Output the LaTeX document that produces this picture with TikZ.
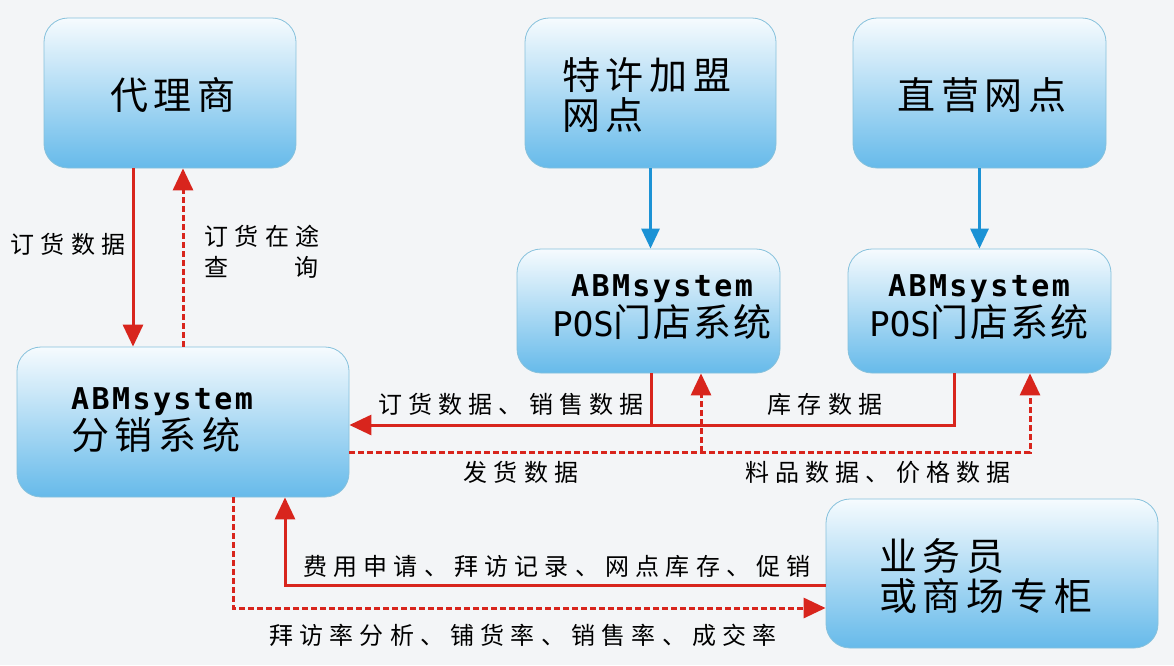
\documentclass[tikz,border=0pt]{standalone}
\usepackage{fontspec}
\usetikzlibrary{arrows.meta}
\newfontfamily\cjkbig[LetterSpace=15]{Noto Sans CJK SC}
\newfontfamily\cjkpos[LetterSpace=5]{Noto Sans CJK SC}
\newfontfamily\cjklab[LetterSpace=26]{Noto Sans CJK SC}
\newfontfamily\abmfont[LetterSpace=8]{DejaVu Sans Mono}
\newfontfamily\posfont{DejaVu Sans Mono}
\definecolor{bg}{HTML}{F3F5F7}
\definecolor{boxtop}{HTML}{F6FBFE}
\definecolor{boxbot}{HTML}{66BAEA}
\definecolor{boxline}{HTML}{86C1DC}
\definecolor{redl}{HTML}{D8251D}
\definecolor{bluel}{HTML}{1B92D5}
\begin{document}
\begin{tikzpicture}[x=1pt,y=-1pt,
  box/.style={draw=boxline, line width=0.8pt, rounded corners=24pt,
    top color=boxtop, bottom color=boxbot, inner sep=0pt},
  bigtxt/.style={inner sep=0pt, align=left, font=\cjkbig\fontsize{38}{40}\selectfont},
  postxt/.style={inner sep=0pt, align=center},
  lab/.style={inner sep=0pt, align=left, font=\cjklab\fontsize{24}{31}\selectfont},
  redarrow/.style={draw=redl, line width=3pt, -{Triangle[length=22pt,width=20pt]}, redl},
  redline/.style={draw=redl, line width=3pt},
  reddash/.style={draw=redl, line width=3pt, dash pattern=on 6pt off 3pt, -{Triangle[length=22pt,width=20pt]}, redl},
  bluearrow/.style={draw=bluel, line width=3pt, -{Triangle[length=20pt,width=18pt]}, bluel}
]
\fill[bg] (0,0) rectangle (1174,665);
\useasboundingbox (0,0) rectangle (1174,665);

% boxes
\node[box, minimum width=252pt, minimum height=150pt] (dl) at (170,93) {};
\node[box, minimum width=251pt, minimum height=150pt] (tx) at (650.5,93) {};
\node[box, minimum width=253pt, minimum height=150pt] (zy) at (979.5,93) {};
\node[box, minimum width=263pt, minimum height=124pt] (pos1) at (648.5,311) {};
\node[box, minimum width=263pt, minimum height=124pt] (pos2) at (979.5,311) {};
\node[box, minimum width=332pt, minimum height=150pt] (fx) at (183,422) {};
\node[box, minimum width=332pt, minimum height=149pt] (yw) at (992,573.5) {};

% box texts
\node[bigtxt] (dlt) at (173,95) {代理商};
\node[bigtxt, anchor=west] (txt) at (562,95) {特许加盟\\网点};
\node[bigtxt] (zyt) at (982,95) {直营网点};
\node[postxt] (pos1t) at (662,307) {{\abmfont\bfseries\fontsize{30}{40}\selectfont ABMsystem}\\
  {\posfont\fontsize{34}{40}\selectfont POS}{\cjkpos\fontsize{38}{40}\selectfont 门店系统}};
\node[postxt] (pos2t) at (979,307) {{\abmfont\bfseries\fontsize{30}{40}\selectfont ABMsystem}\\
  {\posfont\fontsize{34}{40}\selectfont POS}{\cjkpos\fontsize{38}{40}\selectfont 门店系统}};
\node[inner sep=0pt, align=left, anchor=west] (fxt) at (71,420) {{\abmfont\bfseries\fontsize{30}{40}\selectfont ABMsystem}\\
  {\cjkbig\fontsize{38}{40}\selectfont 分销系统}};
\node[bigtxt, anchor=west] (ywt) at (879,576) {业务员\\或商场专柜};

% agent <-> distribution
\draw[redarrow] ([xshift=-37pt]dl.south) -- ([xshift=-50pt]fx.north);
\draw[reddash] (fx.north) -- ([xshift=13pt]dl.south);
\node[lab] (l1) at (68,244) {订货数据};
\node[lab] (l2) at (262,252) {订货在途\\\makebox[114pt][l]{查\hfill 询}};

% stores -> POS
\draw[bluearrow] (tx.south) -- (tx.south |- pos1.north);
\draw[bluearrow] (zy.south) -- (zy.south |- pos2.north);

% POS -> distribution (solid)
\coordinate (j1) at (651,425);
\draw[redarrow] ([xshift=2.5pt]pos1.south) |- ([yshift=-3pt]fx.east);
\draw[redline] ([xshift=-25pt]pos2.south) |- (j1);
\node[lab] (l3) at (511,404) {订货数据、销售数据};
\node[lab] (l4) at (825,404) {库存数据};

% distribution -> POS (dashed)
\coordinate (j2) at (701,452);
\draw[reddash] ([yshift=-30pt]fx.east) -| ([xshift=50.5pt]pos2.south);
\draw[reddash] (j2) -- ([xshift=52.5pt]pos1.south);
\node[lab] (l5) at (521,472) {发货数据};
\node[lab] (l6) at (878,472) {料品数据、价格数据};

% salesman <-> distribution
\draw[redarrow] ([yshift=-11.5pt]yw.west) -| ([xshift=102pt]fx.south);
\draw[reddash] ([xshift=50pt]fx.south) |- ([yshift=-34.5pt]yw.west);
\node[lab] (l7) at (557,566) {费用申请、拜访记录、网点库存、促销};
\node[lab] (l8) at (523,635) {拜访率分析、铺货率、销售率、成交率};
\end{tikzpicture}
\end{document}
